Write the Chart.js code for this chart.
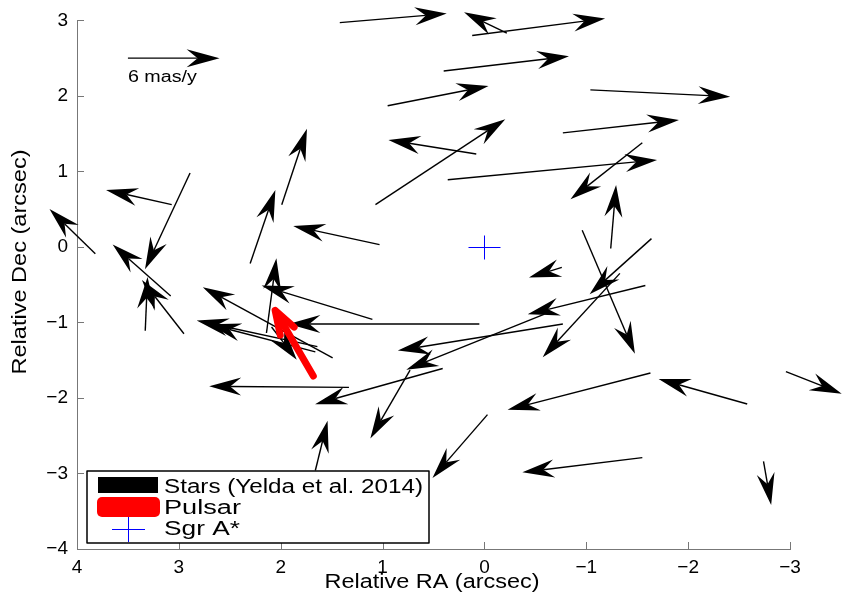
<!DOCTYPE html>
<html>
<head>
<meta charset="utf-8">
<script src="https://cdn.jsdelivr.net/npm/chart.js@4.4.1/dist/chart.umd.min.js"></script>
<style>
html,body{margin:0;padding:0;background:#fff}
#wrap{width:842px;height:597px}
</style>
</head>
<body>
<div id="wrap"><canvas id="c"></canvas></div>
<script>
// star positions (arcsec from Sgr A*) and proper motions (mas/y)
var starRA  = [1.42, 0.12, -0.22, 0.40, 0.95, -1.04, 0.08, 1.07, -0.77, 0.36, -1.55, -1.24, 1.99, 2.30, 1.03,
               3.07, 2.89, 3.82, 3.08, 3.33, 2.95, 2.14, 1.10, 1.64, 1.66, 1.49, 2.09, 0.05, 1.33, 0.41,
               -0.77, -0.59, 0.73, 1.66, -0.03, -0.76, -0.96, -1.64, -1.33, -1.58, -1.63, -2.58, -2.96, -1.55, -2.74];
var starDec = [2.97, 2.80, 2.83, 2.33, 1.87, 2.08, 1.23, 0.56, 1.51, 0.89, 1.38, -0.02, 0.56, -0.22, 0.03,
               0.56, 0.98, -0.09, -0.65, -1.11, -1.15, -1.14, -0.96, -1.32, -1.39, -1.47, -1.06, -1.02, -1.86, -1.61,
               -1.02, -0.89, -1.63, -2.96, -2.22, -0.27, 0.22, 0.11, -0.35, -0.51, -1.67, -2.08, -1.65, -2.79, -2.84];
var starVRA = [-7.0, -8.7, 2.8, -8.2, -6.6, -9.15, 5.75, -8.5, -7.6, -13.7, 4.7, -0.35, -1.65, -1.65, 5.65,
               4.3, 2.95, 3.0, 3.8, -0.15, 2.75, -0.65, 7.25, 7.9, 6.95, 8.5, -1.65, 12.5, 9.15, 8.35,
               10.8, 9.05, 2.6, -0.8, 3.6, 2.15, -3.45, 4.05, 5.05, 7.7, 9.35, 5.8, -3.65, 7.85, -0.5];
var starVDec = [0.8, 1.5, 1.85, 1.3, 1.75, -0.6, 1.25, 7.55, 1.15, 1.75, -5.0, 5.6, 6.7, 6.5, 1.65,
                1.3, -8.5, 3.95, 4.55, 4.75, 4.75, 6.6, 3.0, 2.3, 2.45, 6.25, -2.9, 0, 0.1, -3.15,
                -2.35, -4.9, -6.05, 4.4, -5.6, -0.9, -10.9, -4.9, -7.4, -2.55, -3.25, 2.2, -1.95, -1.3, -3.85];

// pulsar
var psrRA = [1.68], psrDec = [-1.71], psrVRA = [2.5], psrVDec = [5.8];

// reference arrow
var refRA = 3.5, refDec = 2.5, refV = 6;
var refText = '6 mas/y';

var xTickVals = [4, 3, 2, 1, 0, -1, -2, -3];
var yTickVals = [3, 2, 1, 0, -1, -2, -3, -4];
var legendLabels = ['Stars (Yelda et al. 2014)', 'Pulsar', 'Sgr A*'];

var K = 0.15; // arcsec drawn per mas/y
var FONT = "'Liberation Sans', Arial, Helvetica, sans-serif";

function arrow(ctx, x0, y0, x1, y1, L, hw, notch) {
    var a = Math.atan2(y1 - y0, x1 - x0);
    var ux = Math.cos(a), uy = Math.sin(a);
    var nx = -uy, ny = ux;
    ctx.beginPath();
    ctx.moveTo(x0, y0);
    ctx.lineTo(x1 - notch * ux, y1 - notch * uy);
    ctx.stroke();
    ctx.beginPath();
    ctx.moveTo(x1, y1);
    ctx.lineTo(x1 - L * ux + hw * nx, y1 - L * uy + hw * ny);
    ctx.lineTo(x1 - notch * ux, y1 - notch * uy);
    ctx.lineTo(x1 - L * ux - hw * nx, y1 - L * uy - hw * ny);
    ctx.closePath();
    ctx.fill();
}

function fitText(ctx, txt, x, y, w) {
    var m = ctx.measureText(txt).width;
    ctx.save();
    ctx.translate(x, y);
    ctx.scale(w / m, 1);
    ctx.fillText(txt, 0, 0);
    ctx.restore();
}

var quiver = {
    id: 'quiver',
    afterDatasetsDraw: function (chart) {
        var ctx = chart.ctx, xs = chart.scales.x, ys = chart.scales.y;
        var ca = chart.chartArea;
        ctx.save();

        // inward ticks
        ctx.strokeStyle = '#777';
        ctx.lineWidth = 1;
        xTickVals.forEach(function (v) {
            var p = Math.round(xs.getPixelForValue(v)) + 0.5;
            ctx.beginPath(); ctx.moveTo(p, ca.bottom); ctx.lineTo(p, ca.bottom - 7); ctx.stroke();
        });
        yTickVals.forEach(function (v) {
            var p = Math.round(ys.getPixelForValue(v)) + 0.5;
            ctx.beginPath(); ctx.moveTo(ca.left, p); ctx.lineTo(ca.left + 7, p); ctx.stroke();
        });

        // stars
        ctx.strokeStyle = '#000';
        ctx.fillStyle = '#000';
        ctx.lineWidth = 1.4;
        for (var i = 0; i < starRA.length; i++) {
            arrow(ctx,
                xs.getPixelForValue(starRA[i]), ys.getPixelForValue(starDec[i]),
                xs.getPixelForValue(starRA[i] + starVRA[i] * K), ys.getPixelForValue(starDec[i] + starVDec[i] * K),
                32, 9, 21);
        }

        // reference arrow
        arrow(ctx,
            xs.getPixelForValue(refRA), ys.getPixelForValue(refDec),
            xs.getPixelForValue(refRA - refV * K), ys.getPixelForValue(refDec),
            33, 9, 22);
        ctx.font = '16px ' + FONT;
        ctx.textBaseline = 'middle';
        fitText(ctx, refText, xs.getPixelForValue(refRA), ys.getPixelForValue(refDec) + 19, 69);

        // pulsar
        ctx.strokeStyle = '#ff0000';
        ctx.fillStyle = '#ff0000';
        ctx.lineWidth = 7;
        ctx.lineCap = 'round';
        ctx.lineJoin = 'round';
        var px0 = xs.getPixelForValue(psrRA[0]), py0 = ys.getPixelForValue(psrDec[0]);
        var px1 = xs.getPixelForValue(psrRA[0] + psrVRA[0] * K), py1 = ys.getPixelForValue(psrDec[0] + psrVDec[0] * K);
        arrow(ctx, px0, py0, px1, py1, 24, 8, 16);
        ctx.beginPath();
        var a = Math.atan2(py1 - py0, px1 - px0);
        ctx.moveTo(px1 - 24 * Math.cos(a) - 8 * -Math.sin(a), py1 - 24 * Math.sin(a) - 8 * Math.cos(a));
        ctx.lineTo(px1, py1);
        ctx.lineTo(px1 - 24 * Math.cos(a) + 8 * -Math.sin(a), py1 - 24 * Math.sin(a) + 8 * Math.cos(a));
        ctx.stroke();

        // Sgr A*
        ctx.strokeStyle = '#0000ff';
        ctx.lineWidth = 1;
        ctx.lineCap = 'butt';
        var sx = Math.round(xs.getPixelForValue(0)) + 0.5, sy = Math.round(ys.getPixelForValue(0)) + 0.5;
        ctx.beginPath();
        ctx.moveTo(sx - 16, sy); ctx.lineTo(sx + 16, sy);
        ctx.moveTo(sx, sy - 12); ctx.lineTo(sx, sy + 12);
        ctx.stroke();

        // legend box
        var lx = 87, ly = 471, lw = 342, lh = 72;
        ctx.fillStyle = '#fff';
        ctx.fillRect(lx, ly, lw, lh);
        ctx.strokeStyle = '#000';
        ctx.lineWidth = 1.5;
        ctx.strokeRect(lx, ly, lw, lh);
        ctx.fillStyle = '#000';
        ctx.fillRect(98, 477, 60, 16);
        ctx.fillStyle = '#ff0000';
        ctx.beginPath();
        ctx.roundRect(97, 497, 63, 20, 5);
        ctx.fill();
        ctx.strokeStyle = '#0000ff';
        ctx.lineWidth = 1;
        ctx.beginPath();
        ctx.moveTo(112, 529.5); ctx.lineTo(145, 529.5);
        ctx.moveTo(128.5, 517); ctx.lineTo(128.5, 542);
        ctx.stroke();
        ctx.fillStyle = '#000';
        ctx.font = '20px ' + FONT;
        ctx.textBaseline = 'middle';
        ctx.textAlign = 'left';
        fitText(ctx, legendLabels[0], 164, 487, 259);
        fitText(ctx, legendLabels[1], 164, 508, 77);
        fitText(ctx, legendLabels[2], 164, 529, 76);

        ctx.restore();
    },
    afterDraw: function (chart) {
        var ctx = chart.ctx;
        ctx.save();
        ctx.fillStyle = '#000';
        ctx.font = '20px ' + FONT;
        ctx.textBaseline = 'middle';
        ctx.textAlign = 'center';
        fitText(ctx, 'Relative RA (arcsec)', 432, 582, 215);
        ctx.save();
        ctx.translate(20, 262);
        ctx.rotate(-Math.PI / 2);
        fitText(ctx, 'Relative Dec (arcsec)', 0, 0, 225);
        ctx.restore();
        ctx.restore();
    }
};

function fmt(v) {
    return v < 0 ? '\u2212' + Math.abs(v) : String(v);
}

new Chart(document.getElementById('c'), {
    type: 'scatter',
    data: {
        datasets: [{
            label: 'stars',
            data: starRA.map(function (r, i) { return { x: r, y: starDec[i] }; }),
            pointRadius: 0,
            clip: false
        }]
    },
    options: {
        responsive: true,
        maintainAspectRatio: false,
        animation: false,
        devicePixelRatio: 1,
        layout: { padding: { left: 0, top: 18, right: 52, bottom: 0 } },
        plugins: { legend: { display: false }, tooltip: { enabled: false } },
        scales: {
            x: {
                type: 'linear',
                reverse: true,
                min: -3, max: 4,
                grid: { display: false, drawTicks: false },
                border: { display: true, color: '#777', width: 1 },
                ticks: {
                    stepSize: 1, color: '#000', padding: 7,
                    font: { family: FONT, size: 19 },
                    callback: fmt, maxRotation: 0
                },
                afterFit: function (s) { s.height = 48; }
            },
            y: {
                type: 'linear',
                min: -4, max: 3,
                grid: { display: false, drawTicks: false },
                border: { display: true, color: '#777', width: 1 },
                ticks: {
                    stepSize: 1, color: '#000', padding: 9,
                    font: { family: FONT, size: 19 },
                    callback: fmt
                },
                afterFit: function (s) { s.width = 77; }
            }
        }
    },
    plugins: [quiver]
});
</script>
</body>
</html>
